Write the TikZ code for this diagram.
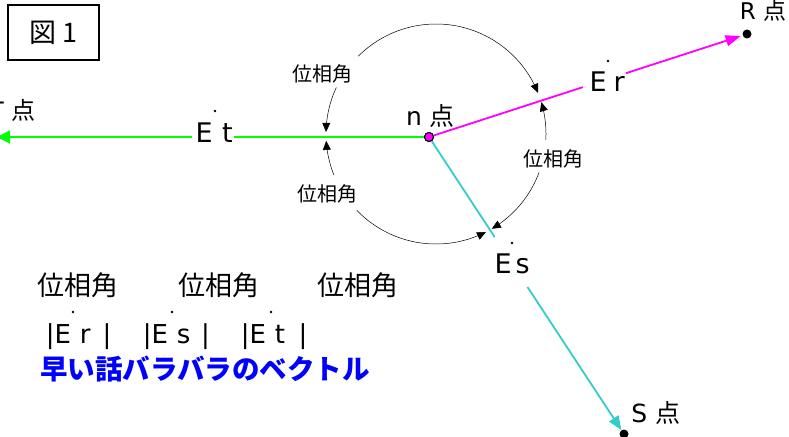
\documentclass[tikz,border=0pt]{standalone}
\usepackage{fontspec}
\setmainfont{Noto Sans CJK JP}
\newfontfamily\lat{DejaVu Sans}
\usetikzlibrary{arrows.meta,calc}
\definecolor{vgreen}{RGB}{0,255,0}
\definecolor{vmag}{RGB}{255,0,255}
\definecolor{vcyan}{RGB}{51,204,204}
\definecolor{vblue}{RGB}{0,0,255}
\tikzset{
  fs/.style={font=\fontsize{#1}{#1}\selectfont},
  vec/.style={line width=1.8pt},
  arcline/.style={line width=0.5pt, draw=black},
  arcend/.style={-{Triangle[length=9pt,width=8pt]}},
  arcstart/.style={{Triangle[length=9pt,width=8pt]}-},
  lbl/.style={inner sep=0pt, text=black},
  edot/.style={circle, fill=black, inner sep=0pt, minimum size=2.6pt},
  bigdot/.style={circle, fill=black, inner sep=0pt, minimum size=9pt},
  npt/.style={circle, fill=vmag, draw=black, line width=1pt, minimum size=9pt, inner sep=0pt},
}
\begin{document}
\begin{tikzpicture}[x=1pt,y=-1pt]
\useasboundingbox (0,0) rectangle (789,436);
\clip (0,0) rectangle (789,436);
\fill[white] (0,0) rectangle (789,436);

% figure title box
\node[draw=black, line width=1.1pt, minimum width=91pt, minimum height=55pt, inner sep=0pt, fs=27] (fig) at (53.5,32.5) {図 1};

% points
\node[npt] (n) at (429,137) {};
\node[bigdot] (R) at (747,34) {};
\node[bigdot] (S) at (624,434) {};
\coordinate (T) at (-3,137);

% vectors
\draw[vec, vgreen] (n) -- ($(n)!0.4514!(T)$);
\draw[vec, vgreen, -{Triangle[length=13pt,width=13pt]}] ($(n)!0.5486!(T)$) -- (T);
\draw[vec, vmag] (n) -- ($(n)!0.484!(R)$);
\draw[vec, vmag, -{Triangle[length=15pt,width=11pt]}, shorten >=2pt] ($(n)!0.619!(R)$) -- (R);
\draw[vec, vcyan] (n) -- ($(n)!0.337!(S)$);
\draw[vec, vcyan, -{Triangle[length=14pt,width=11pt]}] ($(n)!0.505!(S)$) -- (S);
\node[npt] at (n) {};

% phase angle arcs
\draw[arcline, arcend] plot[domain=155:178.9, samples=30] ({436+110*cos(\x)},{134-110*sin(\x)});
\draw[arcline, arcend] plot[domain=135:22, samples=80] ({436+110*cos(\x)},{134-110*sin(\x)});
\draw[arcline, arcstart] plot[domain=16.8:-3, samples=30] ({436+110*cos(\x)},{134-110*sin(\x)});
\draw[arcline, arcend] plot[domain=-20.5:-59.5, samples=40] ({436+110*cos(\x)},{134-110*sin(\x)});
\draw[arcline, arcstart] plot[domain=183.6:202, samples=30] ({436+110*cos(\x)},{134-110*sin(\x)});
\draw[arcline, arcend] plot[domain=224:297, samples=60] ({436+110*cos(\x)},{134-110*sin(\x)});

\node[lbl, fs=20] (a1) at (322,74) {位相角};
\node[lbl, fs=20] (a2) at (327.5,194) {位相角};
\node[lbl, fs=20] (a3) at (553,159) {位相角};

% point labels
\node[lbl, fs=25, anchor=base west] (nl) at (406,125) {{\lat n}\hspace{7.6pt}点};
\node[lbl, fs=23, anchor=base west] (rl) at (739.7,20) {{\lat R}\hspace{8pt}点};
\node[lbl, fs=25, anchor=base west] (sl) at (631.2,422) {{\lat S}\hspace{8pt}点};
\node[lbl, fs=24, anchor=base east] (tl) at (36,119) {{\lat T}\hspace{8pt}点};

% vector labels
\node[lbl, fs=27, anchor=base west] (et) at (195.4,142) {\lat E\hspace{9.5pt}t};
\node[edot] (etd) at (215,111) {};
\node[lbl, fs=27, anchor=base west] (er) at (589.4,92) {\lat E\hspace{7pt}r};
\node[edot] (erd) at (608,61) {};
\node[lbl, fs=27, anchor=base west] (es) at (494.4,273) {\lat E\hspace{4pt}s};
\node[edot] (esd) at (512,243) {};

% bottom text
\node[lbl, fs=27] (b1) at (78,285) {位相角};
\node[lbl, fs=27] (b2) at (219,285) {位相角};
\node[lbl, fs=27] (b3) at (358,285) {位相角};
\node[lbl, fs=26, anchor=base west] (m1) at (45.6,343) {\lat |E\hspace{9pt}r\hspace{12pt}|};
\node[edot] (m1d) at (73,312) {};
\node[lbl, fs=26, anchor=base west] (m2) at (142.6,343) {\lat |E\hspace{9pt}s\hspace{10.5pt}|};
\node[edot] (m2d) at (172,312) {};
\node[lbl, fs=26, anchor=base west] (m3) at (240.6,343) {\lat |E\hspace{9pt}t\hspace{13.5pt}|};
\node[edot] (m3d) at (271,312) {};
\node[lbl, text=vblue, font=\fontsize{27.5}{27.5}\selectfont\bfseries] (bl) at (205,369) {早い話バラバラのベクトル};
\end{tikzpicture}
\end{document}
